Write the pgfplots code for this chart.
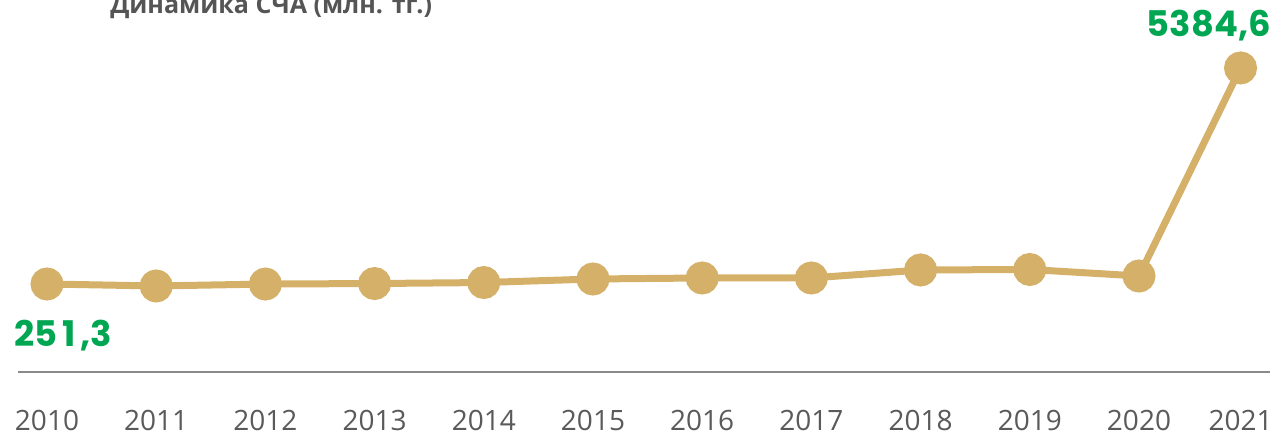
\documentclass[border=0pt]{standalone}
\usepackage{pgfplots}
\pgfplotsset{compat=1.18}
\usepackage{fontspec}
\setmainfont{Open Sans}
\newfontfamily\numfont{Poppins}
\definecolor{lineC}{HTML}{D4B068}
\definecolor{greenC}{HTML}{00A651}
\definecolor{titleC}{HTML}{555555}
\definecolor{yearC}{HTML}{5A5A5A}
\definecolor{axC}{HTML}{8A8A8A}
\begin{document}
\begin{tikzpicture}
\path[use as bounding box] (0,0) rectangle (958.5pt,327pt);
\begin{axis}[
  at={(0,0)}, anchor=south west,
  scale only axis, width=958.5pt, height=327pt,
  xmin=-0.4304, xmax=11.273,
  ymin=-3361, ymax=7000,
  clip=false,
  axis line style={draw=none},
  tick style={draw=none},
  ytick=\empty,
  xtick={0,1,2,3,4,5,6,7,8,9,10,10.93},
  xticklabels={2010,2011,2012,2013,2014,2015,2016,2017,2018,2019,2020,2021},
  xticklabel style={anchor=base, yshift=4.5pt, font=\fontsize{21}{24}\selectfont, text=yearC, inner sep=0pt},
]
\addplot[lineC, line width=5.25pt, mark=*, mark size=9.75pt, mark options={fill=lineC, draw=none}]
  coordinates {(0,251.3) (1,204) (2,250) (3,262) (4,286) (5,370) (6,394) (7,394) (8,584) (9,596) (10,441) (10.93,5384.6)};
\end{axis}
\draw[axC, line width=1.1pt] (13.5pt,48pt) -- (952.5pt,48pt);
\node[anchor=base west, inner sep=0pt, text=titleC, font=\fontsize{18.8}{21}\selectfont\bfseries] at (82.5pt,316.5pt) {Динамика СЧА (млн. тг.)};
\node[anchor=base west, inner sep=0pt, text=greenC, font=\numfont\fontsize{26.5}{30}\selectfont\bfseries] at (10.5pt,67.5pt) {25\makebox[\fontcharwd\font`0]{1},3};
\node[anchor=base east, inner sep=0pt, text=greenC, font=\numfont\fontsize{26.5}{30}\selectfont\bfseries] at (953.25pt,299.25pt) {5384,6};
\end{tikzpicture}
\end{document}
